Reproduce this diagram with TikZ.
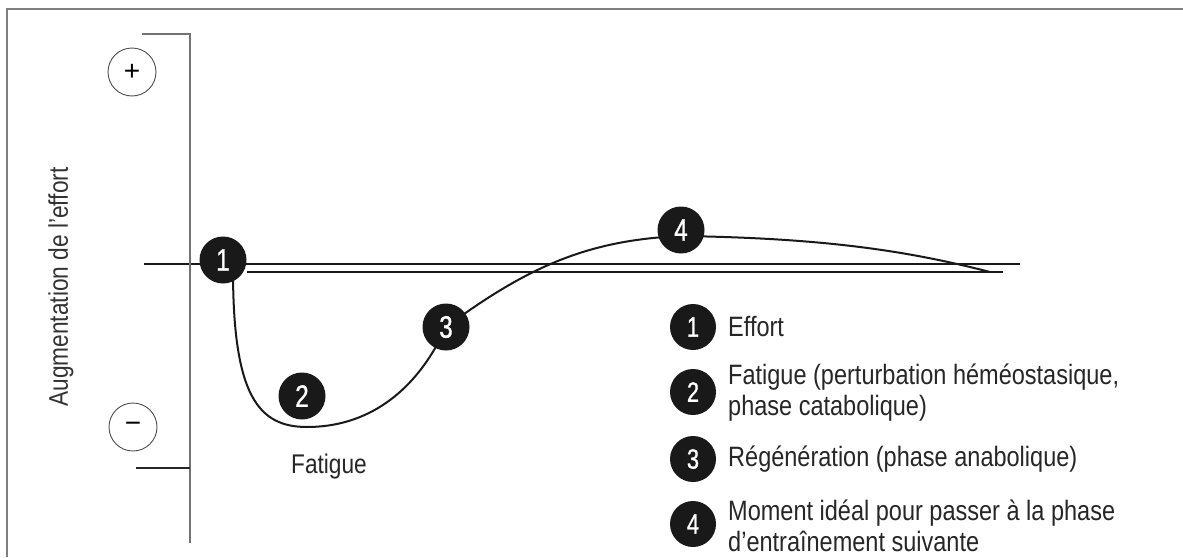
\documentclass[tikz,border=0pt]{standalone}
\usepackage{fontspec}
\setmainfont{Liberation Sans}
\newfontfamily\cond{Liberation Sans}[FakeStretch=0.84]
\newfontfamily\digitfont{Liberation Sans}[FakeStretch=0.78, FakeBold=1]
\usetikzlibrary{backgrounds}
\tikzset{
  framel/.style={draw=black!50, line width=1.2pt},
  axisl/.style={draw=black!55, line width=1.2pt},
  baseline/.style={draw=black!90, line width=1.3pt},
  curve/.style={draw=black!90, line width=2pt},
  bignum/.style={circle, fill=black!90, minimum size=47pt, inner sep=0pt, text=white, font=\digitfont\fontsize{31}{31}\selectfont},
  legnum/.style={circle, fill=black!90, minimum size=46pt, inner sep=0pt, text=white, font=\digitfont\fontsize{28}{28}\selectfont},
  sign/.style={circle, draw=black!70, line width=0.9pt, minimum size=48pt, inner sep=0pt, font=\fontsize{28}{28}\selectfont},
  legtext/.style={anchor=west, align=left, inner sep=0pt, text=black!85, font=\cond\fontsize{28}{31}\selectfont},
}
\begin{document}
\begin{tikzpicture}[x=1pt, y=-1pt]
\useasboundingbox (0,0) rectangle (1183,557);
% frame
\draw[framel] (7,557) -- (7,9) -- (1183,9);
% axis
\coordinate (axtop) at (190,34);
\coordinate (axbot) at (190,543);
\coordinate (ticktop) at (142,34);
\coordinate (tickbot) at (136,468);
\coordinate (tickbotend) at (190,468);
\draw[axisl] (ticktop) -- (axtop) -- (axbot);
\draw[draw=black!85, line width=1.2pt] (tickbot) -- (tickbotend);
\node[sign] (plus) at (132,72) {+};
\node[sign] (minus) at (133,427) {\char"2212};
\node[rotate=90, text=black!80, font=\cond\fontsize{27}{27}\selectfont] (ylab) at (61,287) {Augmentation de l’effort};
% nodes on the curve
\node[bignum] (n1) at (223,260) {1};
\node[bignum] (n2) at (302,396) {2};
\node[bignum] (n3) at (446,327) {3};
\node[bignum] (n4) at (681,230) {4};
\coordinate (l1s) at (144,264);
\coordinate (l1e) at (1020,264);
\coordinate (l2e) at (1003,272);
\coordinate (bot) at (307,427);
\coordinate (cend) at (990,272);
\begin{scope}[on background layer]
\draw[baseline] (l1s) -- (l1e);
\draw[baseline] (n1.east |- l2e) -- (l2e);
\draw[curve] (n1.center -| 233,0) -- (233,270)
  .. controls (233,395) and (258,427) .. (bot)
  .. controls (365,427) and (415,395) .. (n3.center)
  .. controls (530,265) and (590,240) .. (681,236)
  .. controls (820,238) and (905,250) .. (cend);
\end{scope}
\node[text=black!85, font=\cond\fontsize{27}{27}\selectfont] (fat) at (329,467) {Fatigue};
% legend
\node[legnum] (k1) at (693,327) {1};
\node[legnum] (k2) at (693,392) {2};
\node[legnum] (k3) at (693,459) {3};
\node[legnum] (k4) at (693,524) {4};
\node[legtext] (t1) at (728,327) {Effort};
\node[legtext] (t2) at (728,393) {Fatigue (perturbation héméostasique,\\phase catabolique)};
\node[legtext] (t3) at (728,459) {Régénération (phase anabolique)};
\node[legtext] (t4) at (728,526) {Moment idéal pour passer à la phase\\d’entraînement suivante};
\end{tikzpicture}
\end{document}
